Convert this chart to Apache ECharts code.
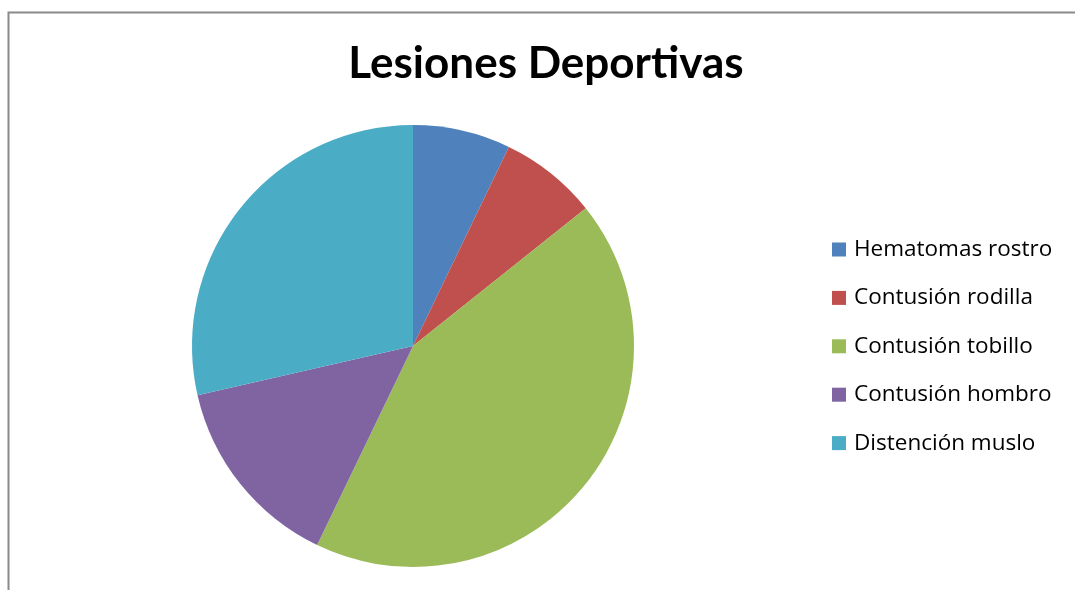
<!DOCTYPE html>
<html>
<head>
<meta charset="utf-8">
<script src="https://cdn.jsdelivr.net/npm/echarts@6/dist/echarts.min.js"></script>
<style>
  html, body { margin: 0; padding: 0; background: #fff; }
  #chart { width: 1075px; height: 590px; }
</style>
</head>
<body>
<div id="chart"></div>
<script>
const categories = ['Hematomas rostro', 'Contusión rodilla', 'Contusión tobillo', 'Contusión hombro', 'Distención muslo']
const values = [1, 1, 6, 2, 4]
const colors = ['#4F81BD', '#C0504D', '#9BBB59', '#8064A2', '#4BACC6']

const chart = echarts.init(document.getElementById('chart'))
chart.setOption({
  animation: false,
  color: colors,
  title: {
    text: 'Lesiones Deportivas',
    left: 541,
    textAlign: 'center',
    top: 37,
    textStyle: { fontFamily: 'Lato', fontWeight: 'bold', fontSize: 44, color: '#000' },
  },
  graphic: [
    {
      type: 'rect',
      shape: { x: 8.5, y: 12.5, width: 1200, height: 700 },
      style: { fill: 'none', stroke: '#8a8a8a', lineWidth: 2 },
      silent: true,
    },
  ],
  legend: {
    orient: 'vertical',
    left: 827,
    top: 233,
    itemWidth: 14,
    itemHeight: 14,
    itemGap: 25.4,
    icon: 'rect',
    textStyle: { fontFamily: 'Open Sans', fontSize: 22.5, lineHeight: 21, color: '#000', padding: [0, 0, 0, 3] },
    data: categories,
  },
  series: [
    {
      type: 'pie',
      center: [413, 346],
      radius: 221,
      startAngle: 90,
      clockwise: true,
      label: { show: false },
      labelLine: { show: false },
      emphasis: { disabled: true },
      data: categories.map((name, i) => ({ name, value: values[i] })),
    },
  ],
})
</script>
</body>
</html>
